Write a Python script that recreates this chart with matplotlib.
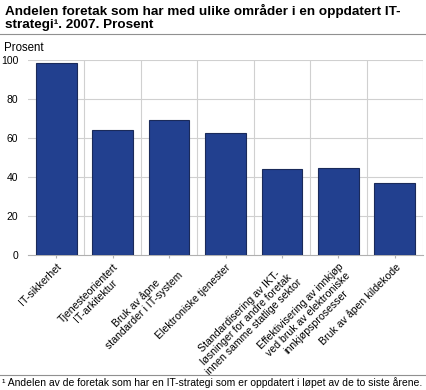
import numpy as np
import matplotlib
matplotlib.use("Agg")
import matplotlib.pyplot as plt

plt.rcParams['font.family'] = ['Liberation Sans', 'DejaVu Sans']

# Donnees
kategorier = [
    "IT-sikkerhet",
    "Tjenesteorientert\nIT-arkitektur",
    "Bruk av åpne\nstandarder i IT-system",
    "Elektroniske tjenester",
    "Standardisering av IKT-\nløsninger for andre foretak\ninnen samme statlige sektor",
    "Effektivisering av innkjøp\nved bruk av elektroniske\ninnkjøpsprosesser",
    "Bruk av åpen kildekode",
]
verdier = [98.5, 64, 69, 62.7, 44, 44.4, 37]
y_ticks = [0, 20, 40, 60, 80, 100]

fig = plt.figure(figsize=(4.26, 3.9), dpi=100)
ax = fig.add_axes([28 / 426, 1 - 255 / 390, 395 / 426, 195 / 390])

x = np.arange(len(kategorier))
ax.bar(x, verdier, width=0.72, color='#22408f', edgecolor='#1a2a5a', linewidth=0.8, zorder=3)

ax.set_xlim(-0.5, len(kategorier) - 0.5)
ax.set_ylim(0, 100)
ax.set_yticks(y_ticks)
ax.set_yticklabels([str(v) for v in y_ticks], fontsize=7.5)
ax.set_xticks(x)
ax.set_xticklabels(kategorier, rotation=45, ha='right', rotation_mode='anchor',
                   multialignment='center', fontsize=7.6, linespacing=1.1)

# grille : horizontale aux graduations, verticale entre categories
for v in y_ticks[1:]:
    ax.axhline(v, color='#d0d0d0', linewidth=0.8, zorder=1)
for b in np.arange(0.5, len(kategorier), 1.0):
    ax.axvline(b, color='#d0d0d0', linewidth=0.8, zorder=1)

for s in ['top', 'right', 'left']:
    ax.spines[s].set_visible(False)
ax.spines['bottom'].set_color('#b0b0b0')
ax.tick_params(axis='y', length=0, pad=7)
ax.tick_params(axis='x', length=2, color='#b0b0b0', pad=3)

fig.text(4 / 426, 1 - 48 / 390, "Prosent", fontsize=8.3, va='center', ha='left')

fig.text(5 / 426, 1 - 4 / 390,
         "Andelen foretak som har med ulike områder i en oppdatert IT-\nstrategi\u00b9. 2007. Prosent",
         fontsize=9.7, fontweight='bold', va='top', ha='left', linespacing=1.12)

fig.add_artist(plt.Line2D([0, 1], [1 - 34 / 390, 1 - 34 / 390], color='#909090', linewidth=0.8))
fig.add_artist(plt.Line2D([0, 1], [1 - 375 / 390, 1 - 375 / 390], color='#909090', linewidth=0.8))

fig.text(2 / 426, 1 - 383 / 390,
         "\u00b9 Andelen av de foretak som har en IT-strategi som er oppdatert i løpet av de to siste årene.",
         fontsize=7.45, va='center', ha='left')

fig.savefig("out.png", dpi=100)
